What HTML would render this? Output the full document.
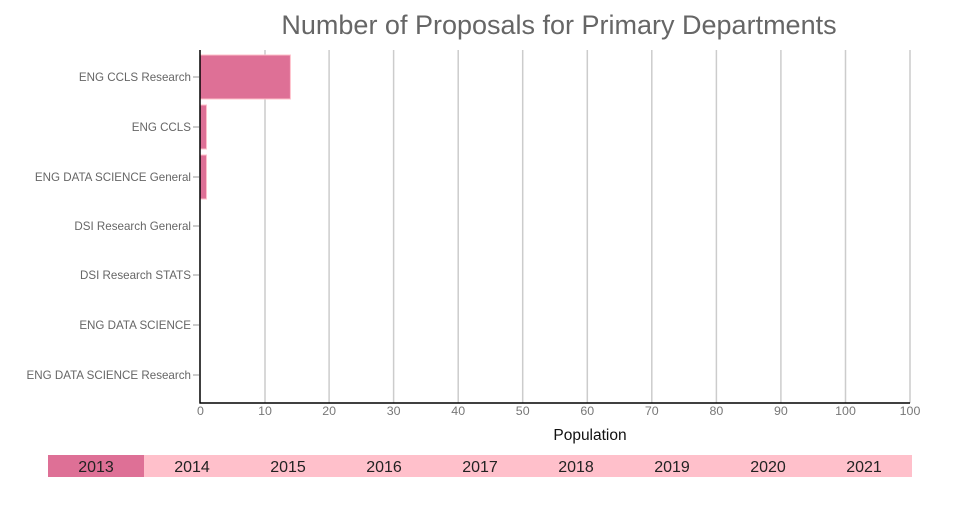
<!DOCTYPE html>
<html><head><style>
body{margin:0;background:#fff;width:960px;height:500px;overflow:hidden;font-family:"Liberation Sans",sans-serif}
</style></head><body>
<svg width="960" height="500" xmlns="http://www.w3.org/2000/svg" font-family="Liberation Sans, sans-serif">
<text x="559" y="34" font-size="27" fill="#666" text-anchor="middle">Number of Proposals for Primary Departments</text>
<g stroke="#ccc" stroke-width="1.5">
<line x1="265" y1="50" x2="265" y2="403"/><line x1="329.1" y1="50" x2="329.1" y2="403"/><line x1="393.6" y1="50" x2="393.6" y2="403"/><line x1="458.2" y1="50" x2="458.2" y2="403"/><line x1="522.7" y1="50" x2="522.7" y2="403"/><line x1="587.3" y1="50" x2="587.3" y2="403"/><line x1="651.8" y1="50" x2="651.8" y2="403"/><line x1="716.4" y1="50" x2="716.4" y2="403"/><line x1="780.9" y1="50" x2="780.9" y2="403"/><line x1="845.5" y1="50" x2="845.5" y2="403"/><line x1="910" y1="50" x2="910" y2="403"/>
</g>
<g fill="#de7096" stroke="#ffc0cb" stroke-width="1">
<rect x="200" y="55" width="90.4" height="44"/>
<rect x="200" y="105" width="6.5" height="44"/>
<rect x="200" y="155" width="6.5" height="44"/>
</g>
<line x1="200" y1="50" x2="200" y2="403.5" stroke="#000" stroke-width="1.5"/>
<line x1="199.5" y1="403" x2="910" y2="403" stroke="#000" stroke-width="1.5"/>
<g font-size="11.6" fill="#666" text-anchor="end">
<text x="191" y="81">ENG CCLS Research</text>
<text x="191" y="131">ENG CCLS</text>
<text x="191" y="181">ENG DATA SCIENCE General</text>
<text x="191" y="230">DSI Research General</text>
<text x="191" y="279">DSI Research STATS</text>
<text x="191" y="329">ENG DATA SCIENCE</text>
<text x="191" y="379">ENG DATA SCIENCE Research</text>
</g>
<g stroke="#999" stroke-width="1">
<line x1="193" y1="77" x2="199" y2="77"/><line x1="193" y1="127" x2="199" y2="127"/><line x1="193" y1="177" x2="199" y2="177"/><line x1="193" y1="226" x2="199" y2="226"/><line x1="193" y1="275" x2="199" y2="275"/><line x1="193" y1="325" x2="199" y2="325"/><line x1="193" y1="375" x2="199" y2="375"/>
</g>
<g font-size="12.4" fill="#777" text-anchor="middle">
<text x="200.5" y="415">0</text><text x="265" y="415">10</text><text x="329.1" y="415">20</text><text x="393.6" y="415">30</text><text x="458.2" y="415">40</text><text x="522.7" y="415">50</text><text x="587.3" y="415">60</text><text x="651.8" y="415">70</text><text x="716.4" y="415">80</text><text x="780.9" y="415">90</text><text x="845.5" y="415">100</text><text x="910" y="415">100</text>
</g>
<text x="590" y="440" font-size="15.5" fill="#111" text-anchor="middle">Population</text>
<rect x="48" y="455" width="96" height="22" fill="#de7096"/>
<rect x="144" y="455" width="768" height="22" fill="#ffc0cb"/>
<g font-size="16" fill="#222" text-anchor="middle">
<text x="96" y="472">2013</text><text x="192" y="472">2014</text><text x="288" y="472">2015</text><text x="384" y="472">2016</text><text x="480" y="472">2017</text><text x="576" y="472">2018</text><text x="672" y="472">2019</text><text x="768" y="472">2020</text><text x="864" y="472">2021</text>
</g>
</svg>
</body></html>
